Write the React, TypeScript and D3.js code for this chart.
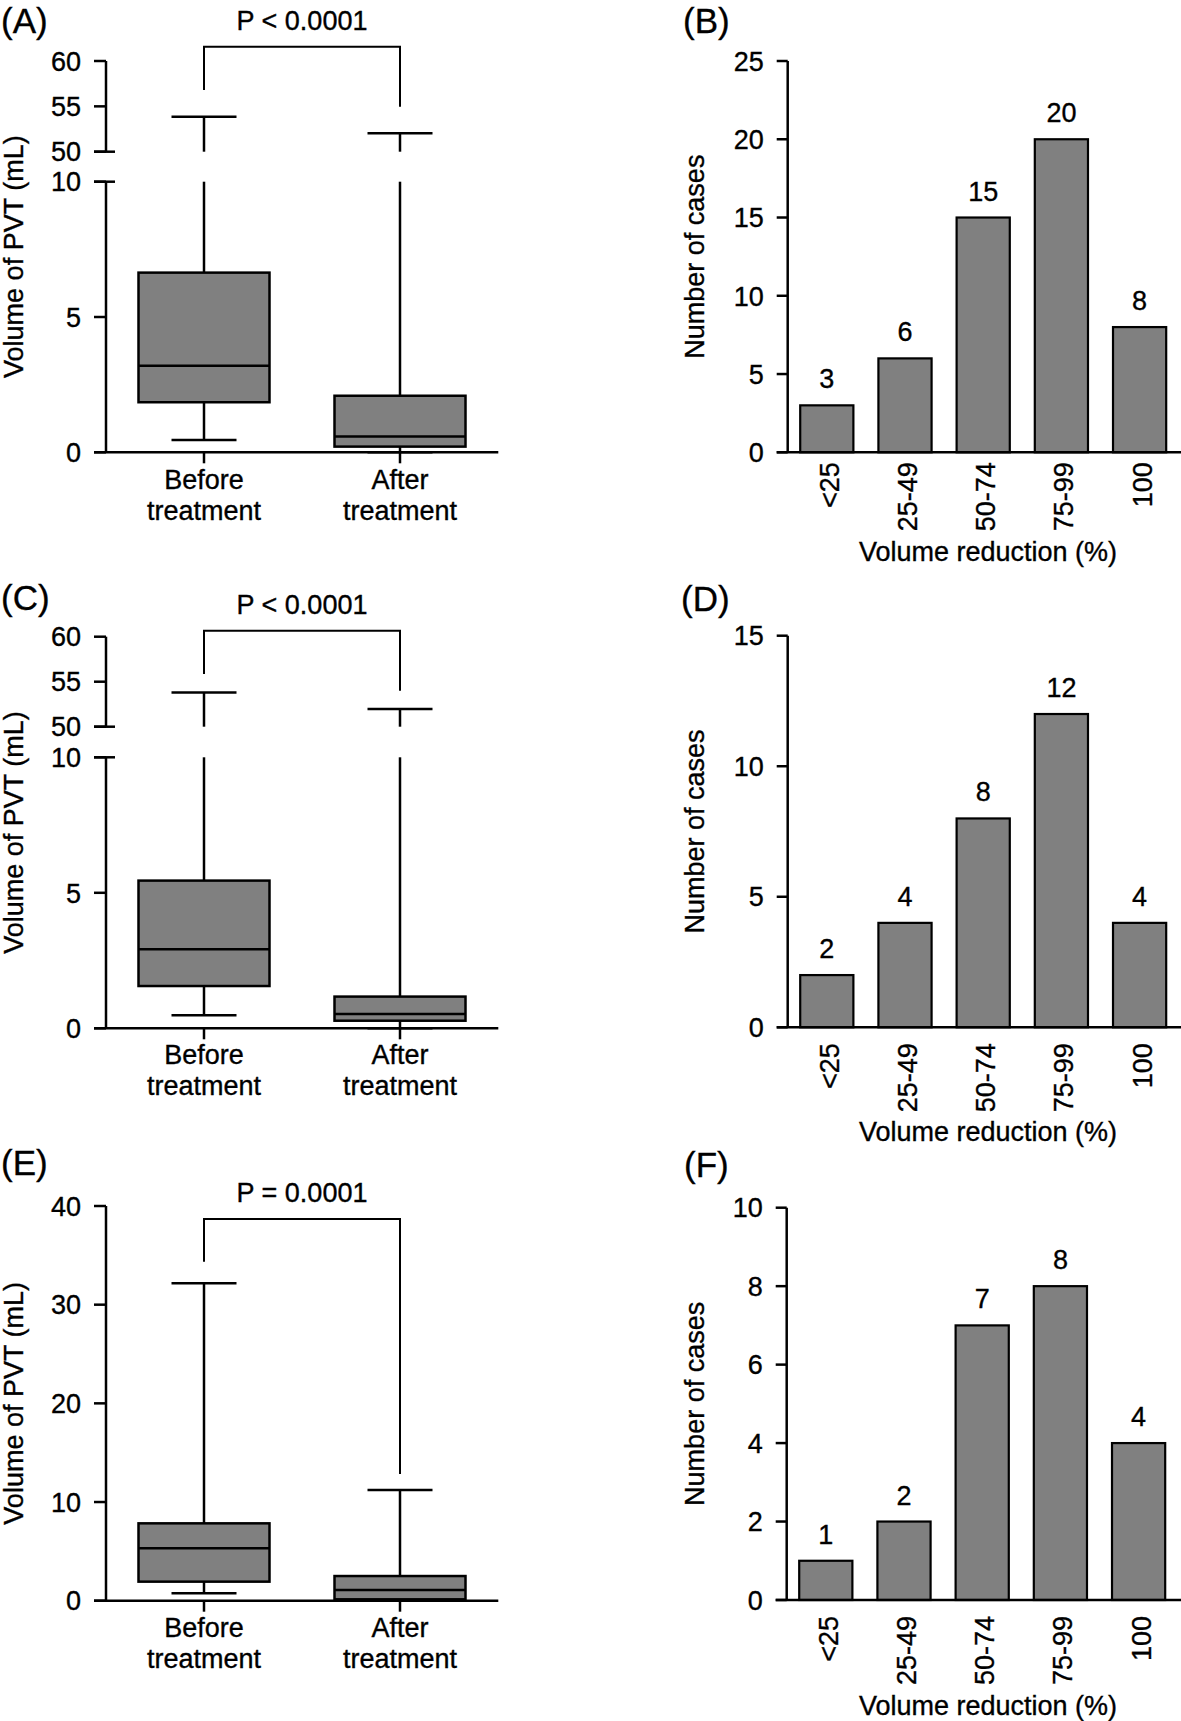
import React from "react";
import * as d3 from "d3";

const FONT = '"Liberation Sans", Arial, Helvetica, sans-serif';
const FS = 27;
const LFS = 35;
const GRAY = "#808080";
const TXT = { fontFamily: FONT, fill: "#000", stroke: "#000", strokeWidth: 0.35 } as const;

// ---------- data ----------
const treatmentGroups = ["Before treatment", "After treatment"];
const groupLines = [["Before", "treatment"], ["After", "treatment"]];
// each row: [min, q1, median, q3, max]  (mL)
const volumeA = [[0.45, 1.85, 3.2, 6.64, 53.86], [0, 0.21, 0.58, 2.09, 52.03]];
const volumeC = [[0.48, 1.56, 2.92, 5.45, 53.8], [0, 0.28, 0.53, 1.17, 51.97]];
const volumeE = [[0.75, 1.93, 5.31, 7.84, 32.16], [0, 0.14, 1.08, 2.5, 11.22]];
const pTextA = "P < 0.0001";
const pTextC = "P < 0.0001";
const pTextE = "P = 0.0001";
// bracket: [top, left leg end, right leg end] in axis units
const bracketA = [61.58, 56.8, 54.96];
const bracketC = [60.67, 55.86, 54.0];
const bracketE = [38.68, 34.36, 12.84];
const lowerTicksBroken = [0, 5, 10];
const upperTicksBroken = [50, 55, 60];
const ticksE = [0, 10, 20, 30, 40];

const reductionCats = ["<25", "25-49", "50-74", "75-99", "100"];
const casesB = [3, 6, 15, 20, 8];
const casesD = [2, 4, 8, 12, 4];
const casesF = [1, 2, 7, 8, 4];
const ticksB = [0, 5, 10, 15, 20, 25];
const ticksD = [0, 5, 10, 15];
const ticksF = [0, 2, 4, 6, 8, 10];

// ---------- components ----------
type BoxProps = {
  label: string;
  labelY: number;
  pText: string;
  pY: number;
  stats: number[][];
  bracket: number[];
  lowerDomain: number[];
  lowerRange: number[];
  upperDomain?: number[];
  upperRange?: number[];
  lowerTicks: number[];
  upperTicks?: number[];
  catY: number;
};

function BoxPanel(p: BoxProps) {
  const axisX = 106;
  const x = d3.scalePoint<string>().domain(treatmentGroups).range([106, 498]).padding(0.5);
  const lower = d3.scaleLinear().domain(p.lowerDomain).range(p.lowerRange);
  const upper = p.upperDomain ? d3.scaleLinear().domain(p.upperDomain).range(p.upperRange!) : null;
  const brk = p.lowerDomain[1];
  const yv = (v: number) => (upper && v > brk ? upper(v) : lower(v));
  const boxW = 131;
  const capW = 65;
  const y0 = lower(0);
  const xl = x(treatmentGroups[0])!;
  const xr = x(treatmentGroups[1])!;
  const yTop = upper ? upper(p.bracket[0]) : lower(p.bracket[0]);
  const axisTop = upper ? upper(p.upperDomain![1]) : lower(p.lowerDomain[1]);
  const titleY = (axisTop + y0) / 2;
  const sw = 2.5;
  return (
    <g>
      <text x={1} y={p.labelY} fontSize={LFS} {...TXT}>{p.label}</text>
      <text x={(xl + xr) / 2} y={p.pY} fontSize={FS} textAnchor="middle" {...TXT}>{p.pText}</text>
      <path
        d={`M${xl},${yv(p.bracket[1])}V${yTop}H${xr}V${yv(p.bracket[2])}`}
        fill="none" stroke="#000" strokeWidth={2}
      />
      {p.stats.map((s, i) => {
        const cx = x(treatmentGroups[i])!;
        const [mn, q1, md, q3, mx] = s;
        const upperWhisker = upper && mx > brk ? (
          <g>
            <line x1={cx} x2={cx} y1={lower(q3)} y2={lower(brk)} stroke="#000" strokeWidth={sw} />
            <line x1={cx} x2={cx} y1={upper(p.upperDomain![0])} y2={upper(mx)} stroke="#000" strokeWidth={sw} />
          </g>
        ) : (
          <line x1={cx} x2={cx} y1={lower(q3)} y2={lower(mx)} stroke="#000" strokeWidth={sw} />
        );
        return (
          <g key={i}>
            {upperWhisker}
            <line x1={cx - capW / 2} x2={cx + capW / 2} y1={yv(mx)} y2={yv(mx)} stroke="#000" strokeWidth={sw} />
            <line x1={cx} x2={cx} y1={lower(q1)} y2={lower(mn)} stroke="#000" strokeWidth={sw} />
            <line x1={cx - capW / 2} x2={cx + capW / 2} y1={lower(mn)} y2={lower(mn)} stroke="#000" strokeWidth={sw} />
            <rect x={cx - boxW / 2} y={lower(q3)} width={boxW} height={lower(q1) - lower(q3)} fill={GRAY} stroke="#000" strokeWidth={sw} />
            <line x1={cx - boxW / 2} x2={cx + boxW / 2} y1={lower(md)} y2={lower(md)} stroke="#000" strokeWidth={sw} />
          </g>
        );
      })}
      {/* y axis */}
      <line x1={axisX} x2={axisX} y1={y0} y2={lower(p.lowerDomain[1])} stroke="#000" strokeWidth={sw} />
      {upper && (
        <g>
          <line x1={axisX} x2={axisX} y1={upper(p.upperDomain![0])} y2={upper(p.upperDomain![1])} stroke="#000" strokeWidth={sw} />
          <line x1={axisX - 12} x2={axisX + 9} y1={lower(brk)} y2={lower(brk)} stroke="#000" strokeWidth={sw} />
          <line x1={axisX - 12} x2={axisX + 9} y1={upper(p.upperDomain![0])} y2={upper(p.upperDomain![0])} stroke="#000" strokeWidth={sw} />
        </g>
      )}
      {p.lowerTicks.map((t) => (
        <g key={"l" + t}>
          <line x1={axisX - 12} x2={axisX} y1={lower(t)} y2={lower(t)} stroke="#000" strokeWidth={sw} />
          <text x={axisX - 25} y={lower(t)} dy="0.36em" textAnchor="end" fontSize={FS} {...TXT}>{t}</text>
        </g>
      ))}
      {upper && p.upperTicks!.map((t) => (
        <g key={"u" + t}>
          <line x1={axisX - 12} x2={axisX} y1={upper(t)} y2={upper(t)} stroke="#000" strokeWidth={sw} />
          <text x={axisX - 25} y={upper(t)} dy="0.36em" textAnchor="end" fontSize={FS} {...TXT}>{t}</text>
        </g>
      ))}
      {/* x axis */}
      <line x1={axisX - 12} x2={498.3} y1={y0} y2={y0} stroke="#000" strokeWidth={sw} />
      {treatmentGroups.map((g, i) => (
        <g key={g}>
          <line x1={x(g)!} x2={x(g)!} y1={y0} y2={y0 + 11} stroke="#000" strokeWidth={sw} />
          <text x={x(g)!} y={p.catY} textAnchor="middle" fontSize={FS} {...TXT}>{groupLines[i][0]}</text>
          <text x={x(g)!} y={p.catY + 31} textAnchor="middle" fontSize={FS} {...TXT}>{groupLines[i][1]}</text>
        </g>
      ))}
      <text transform={`translate(22.5,${titleY}) rotate(-90)`} textAnchor="middle" fontSize={FS} {...TXT}>
        Volume of PVT (mL)
      </text>
    </g>
  );
}

type BarProps = {
  label: string;
  labelX: number;
  labelY: number;
  values: number[];
  ticks: number[];
  yRange: number[];
  axisX: number;
  catOffset: number;
  titleY: number;
};

function BarPanel(p: BarProps) {
  const ax = p.axisX;
  const x = d3.scaleBand<string>().domain(reductionCats).range([ax, ax + 391]).paddingInner(0.32).paddingOuter(0.16);
  const y = d3.scaleLinear().domain([0, p.ticks[p.ticks.length - 1]]).range(p.yRange);
  const y0 = y(0);
  const bw = x.bandwidth();
  const sw = 2.5;
  return (
    <g>
      <text x={p.labelX} y={p.labelY} fontSize={LFS} {...TXT}>{p.label}</text>
      {reductionCats.map((c, i) => (
        <g key={c}>
          <rect x={x(c)!} y={y(p.values[i])} width={bw} height={y0 - y(p.values[i])} fill={GRAY} stroke="#000" strokeWidth={2.2} />
          <text x={x(c)! + bw / 2} y={y(p.values[i]) - 17} textAnchor="middle" fontSize={FS} {...TXT}>{p.values[i]}</text>
          <text transform={`translate(${x(c)! + bw / 2 + 12},${y0 + p.catOffset}) rotate(-90)`} textAnchor="end" fontSize={FS} {...TXT}>{c}</text>
        </g>
      ))}
      <line x1={ax} x2={ax} y1={y0} y2={y(p.ticks[p.ticks.length - 1])} stroke="#000" strokeWidth={sw} />
      {p.ticks.map((t) => (
        <g key={t}>
          <line x1={ax - 11} x2={ax} y1={y(t)} y2={y(t)} stroke="#000" strokeWidth={sw} />
          <text x={ax - 24} y={y(t)} dy="0.36em" textAnchor="end" fontSize={FS} {...TXT}>{t}</text>
        </g>
      ))}
      <line x1={ax - 11} x2={1181} y1={y0} y2={y0} stroke="#000" strokeWidth={sw} />
      <text transform={`translate(703.5,${(p.yRange[0] + p.yRange[1]) / 2}) rotate(-90)`} textAnchor="middle" fontSize={FS} {...TXT}>
        Number of cases
      </text>
      <text x={988} y={p.titleY} textAnchor="middle" fontSize={FS} {...TXT}>Volume reduction (%)</text>
    </g>
  );
}

export default function App() {
  return (
    <svg width={1181} height={1721} style={{ position: "absolute", left: 0, top: 0, background: "#fff" }}>
      <BoxPanel label="(A)" labelY={33} pText={pTextA} pY={30} stats={volumeA} bracket={bracketA}
        lowerDomain={[0, 10]} lowerRange={[452.3, 181.7]} upperDomain={[50, 60]} upperRange={[151.7, 61]}
        lowerTicks={lowerTicksBroken} upperTicks={upperTicksBroken} catY={489} />
      <BoxPanel label="(C)" labelY={610} pText={pTextC} pY={614.3} stats={volumeC} bracket={bracketC}
        lowerDomain={[0, 10]} lowerRange={[1028.3, 757.3]} upperDomain={[50, 60]} upperRange={[726.7, 636.7]}
        lowerTicks={lowerTicksBroken} upperTicks={upperTicksBroken} catY={1064} />
      <BoxPanel label="(E)" labelY={1175} pText={pTextE} pY={1202.3} stats={volumeE} bracket={bracketE}
        lowerDomain={[0, 40]} lowerRange={[1600.7, 1206]} lowerTicks={ticksE} catY={1637} />
      <BarPanel label="(B)" labelX={683} labelY={33} values={casesB} ticks={ticksB} yRange={[452.3, 61]} axisX={787.7} catOffset={10} titleY={561} />
      <BarPanel label="(D)" labelX={681} labelY={611} values={casesD} ticks={ticksD} yRange={[1027.3, 635.7]} axisX={787.7} catOffset={16} titleY={1141} />
      <BarPanel label="(F)" labelX={684} labelY={1177} values={casesF} ticks={ticksF} yRange={[1600, 1207.7]} axisX={786.7} catOffset={16} titleY={1715} />
    </svg>
  );
}
